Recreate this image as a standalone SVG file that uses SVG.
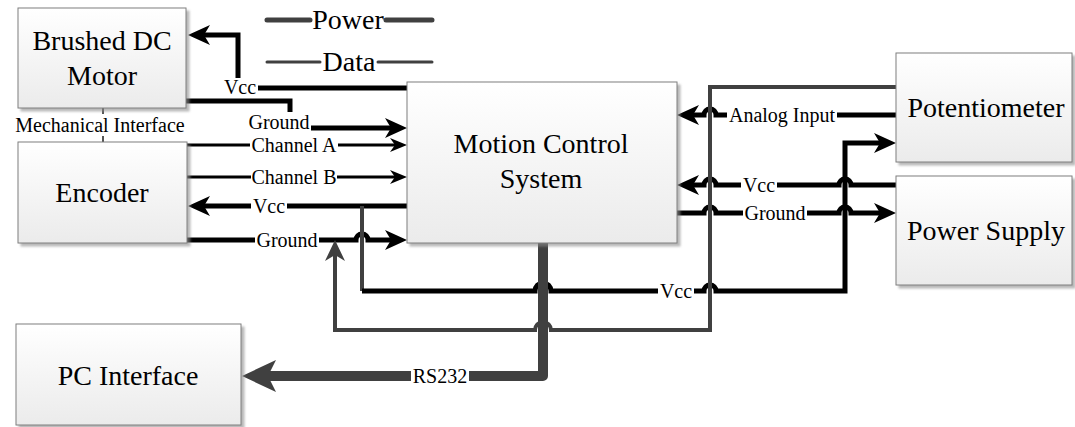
<svg xmlns="http://www.w3.org/2000/svg" width="1075" height="427" viewBox="0 0 1075 427">
<style>
.box{fill:url(#bg);stroke:#7f7f7f;stroke-width:1;filter:url(#sh)}
.bt{font-family:"Liberation Serif","Times New Roman",serif;font-size:28px;fill:#000;text-anchor:middle;dominant-baseline:central}
.lt{font-family:"Liberation Serif","Times New Roman",serif;font-size:20px;fill:#000;text-anchor:middle;dominant-baseline:central}
.lb{fill:#fff}
.pw{fill:none;stroke:#000;stroke-width:5}
.dt{fill:none;stroke:#000;stroke-width:3}
.gr{fill:none;stroke:#404040;stroke-width:4}
.rs{fill:none;stroke:#404040;stroke-width:10;stroke-linecap:round;stroke-linejoin:round}
</style>
<defs>
<linearGradient id="bg" x1="0" y1="0" x2="0" y2="1">
<stop offset="0" stop-color="#ffffff"/>
<stop offset="1" stop-color="#ebebeb"/>
</linearGradient>
<filter id="sh" x="-10%" y="-10%" width="125%" height="130%">
<feDropShadow dx="3" dy="3" stdDeviation="1.2" flood-color="#8a8a8a" flood-opacity="0.6"/>
</filter>
<marker id="ab" markerUnits="userSpaceOnUse" orient="auto" overflow="visible" refX="-8" refY="0" markerWidth="30" markerHeight="30">
<path d="M0,0 L-22,-10 L-16,0 L-22,10 Z" fill="#000"/>
</marker>
<marker id="as" markerUnits="userSpaceOnUse" orient="auto" overflow="visible" refX="-7" refY="0" markerWidth="30" markerHeight="30">
<path d="M0,0 L-17,-7 L-12,0 L-17,7 Z" fill="#000"/>
</marker>
<marker id="ag" markerUnits="userSpaceOnUse" orient="auto" overflow="visible" refX="-9" refY="0" markerWidth="30" markerHeight="30">
<path d="M0,0 L-21,-10 L-15,0 L-21,10 Z" fill="#404040"/>
</marker>
<marker id="ar" markerUnits="userSpaceOnUse" orient="auto" overflow="visible" refX="-16" refY="0" markerWidth="40" markerHeight="40">
<path d="M0,0 L-34,-16 L-26,0 L-34,16 Z" fill="#404040"/>
</marker>
</defs>
<rect width="1075" height="427" fill="#fff"/>

<g id="legend">
<path d="M267,20 H310 M386,20 H432" fill="none" stroke="#404040" stroke-width="5" stroke-linecap="round"/>
<text class="bt" x="348" y="19">Power</text>
<path d="M267,62 H320 M378,62 H432" fill="none" stroke="#404040" stroke-width="3" stroke-linecap="round"/>
<text class="bt" x="349" y="61">Data</text>
</g>

<g id="connectors">
<path d="M103,108 V142" fill="none" stroke="#555" stroke-width="2"/>
<path class="pw" d="M407,88 H238 V35 H196" marker-end="url(#ab)"/>
<path class="pw" d="M186,101 H290 V128 H399" marker-end="url(#ab)"/>
<path class="dt" d="M187,145 H400" marker-end="url(#as)"/>
<path class="dt" d="M187,177 H400" marker-end="url(#as)"/>
<path class="pw" d="M407,206 H196" marker-end="url(#ab)"/>
<path class="pw" d="M187,240 H356 a6,6 0 0 1 12,0 H399" marker-end="url(#ab)"/>
<path class="gr" d="M362,206 V291"/>
<path class="pw" d="M362,291 H535 a8,8 0 0 1 16,0 H704 a6,6 0 0 1 12,0 H845 V143 H888" marker-end="url(#ab)"/>
<path class="pw" d="M896,115 H716 a6,6 0 0 0 -12,0 H685" marker-end="url(#ab)"/>
<path class="pw" d="M896,185 H851 a6,6 0 0 0 -12,0 H716 a6,6 0 0 0 -12,0 H685" marker-end="url(#ab)"/>
<path class="pw" d="M677,213 H704 a6,6 0 0 1 12,0 H839 a6,6 0 0 1 12,0 H888" marker-end="url(#ab)"/>
<path class="rs" d="M543,243 V376 H258" marker-end="url(#ar)"/>
<path class="gr" d="M896,87 H710 V330 H551 a8,8 0 0 0 -16,0 H335 V249" marker-end="url(#ag)"/>

<rect class="lb" x="222" y="78" width="36" height="19"/>
<text class="lt" x="240" y="87">Vcc</text>
<rect class="lb" x="247" y="112" width="64" height="20"/>
<text class="lt" x="279" y="122">Ground</text>
<rect class="lb" x="250" y="136" width="88" height="18"/>
<text class="lt" x="294" y="145">Channel A</text>
<rect class="lb" x="251" y="168" width="86" height="18"/>
<text class="lt" x="294" y="177">Channel B</text>
<rect class="lb" x="251" y="197" width="36" height="18"/>
<text class="lt" x="269" y="206">Vcc</text>
<rect class="lb" x="255" y="231" width="64" height="18"/>
<text class="lt" x="287" y="240">Ground</text>
<rect class="lb" x="727" y="106" width="110" height="18"/>
<text class="lt" x="782" y="115">Analog Input</text>
<rect class="lb" x="741" y="176" width="36" height="18"/>
<text class="lt" x="759" y="185">Vcc</text>
<rect class="lb" x="743" y="204" width="64" height="18"/>
<text class="lt" x="775" y="213">Ground</text>
<rect class="lb" x="658" y="282" width="36" height="18"/>
<text class="lt" x="676" y="291">Vcc</text>
<rect class="lb" x="411" y="366" width="58" height="20"/>
<text class="lt" x="440" y="376">RS232</text>
<rect class="lb" x="10" y="114" width="182" height="22"/>
<text class="lt" x="100" y="125">Mechanical Interface</text>
</g>

<g id="motor">
<rect class="box" x="18" y="8" width="168" height="100"/>
<text class="bt" x="102" y="40">Brushed DC</text>
<text class="bt" x="102" y="75">Motor</text>
</g>
<g id="encoder">
<rect class="box" x="18" y="142" width="169" height="101"/>
<text class="bt" x="102" y="192">Encoder</text>
</g>
<g id="mcs">
<rect class="box" x="407" y="82" width="270" height="161"/>
<text class="bt" x="541" y="143">Motion Control</text>
<text class="bt" x="541" y="178">System</text>
</g>
<g id="potentiometer">
<rect class="box" x="896" y="53" width="176" height="109"/>
<text class="bt" x="986" y="107">Potentiometer</text>
</g>
<g id="powersupply">
<rect class="box" x="896" y="176" width="176" height="109"/>
<text class="bt" x="986" y="230">Power Supply</text>
</g>
<g id="pc">
<rect class="box" x="16" y="324" width="225" height="101"/>
<text class="bt" x="128" y="375">PC Interface</text>
</g>
</svg>
